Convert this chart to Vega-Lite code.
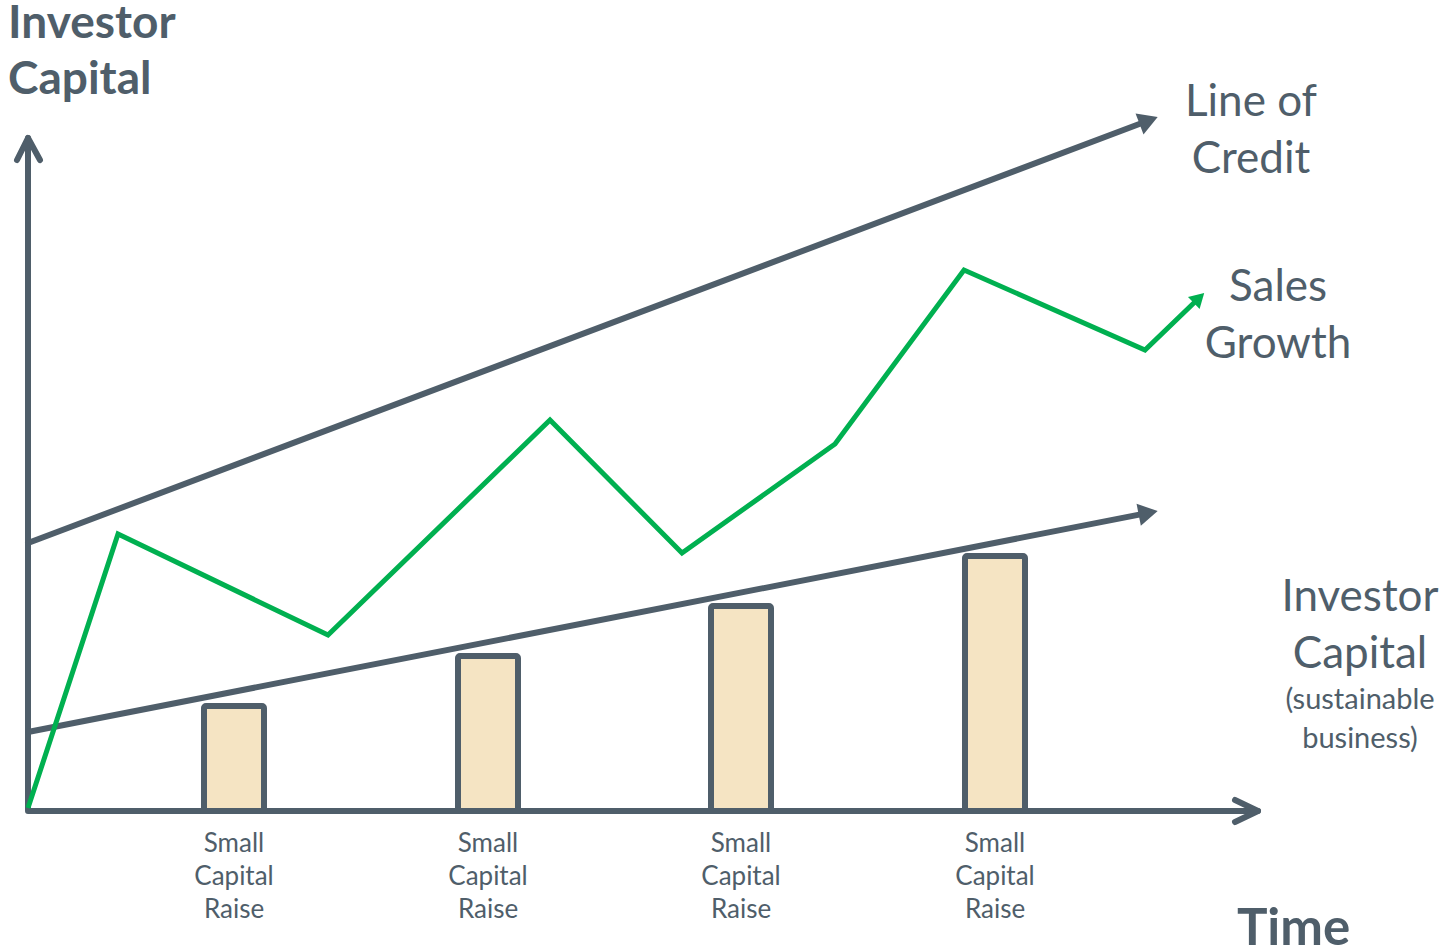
{
  "$schema": "https://vega.github.io/schema/vega-lite/v6.json",
  "width": 1448,
  "height": 951,
  "autosize": {"type": "none"},
  "padding": 0,
  "background": "white",
  "config": {"view": {"stroke": null}},
  "datasets": {
    "paths": [
      {"series": "axes", "order": 1, "t": 0, "v": 673},
      {"series": "axes", "order": 2, "t": 0, "v": 0},
      {"series": "axes", "order": 3, "t": 1230, "v": 0},
      {"series": "yhead", "order": 1, "t": -11, "v": 651},
      {"series": "yhead", "order": 2, "t": 0, "v": 673},
      {"series": "yhead", "order": 3, "t": 12, "v": 651},
      {"series": "xhead", "order": 1, "t": 1207, "v": 11},
      {"series": "xhead", "order": 2, "t": 1230, "v": 0},
      {"series": "xhead", "order": 3, "t": 1207, "v": -11},
      {"series": "Line of Credit", "order": 1, "t": 0, "v": 268},
      {"series": "Line of Credit", "order": 2, "t": 1120.6, "v": 690.5},
      {"series": "Investor Capital", "order": 1, "t": 0, "v": 79},
      {"series": "Investor Capital", "order": 2, "t": 1120.2, "v": 298.1},
      {"series": "Sales Growth", "order": 1, "t": 0, "v": 3},
      {"series": "Sales Growth", "order": 2, "t": 90, "v": 277},
      {"series": "Sales Growth", "order": 3, "t": 300, "v": 176},
      {"series": "Sales Growth", "order": 4, "t": 522, "v": 391},
      {"series": "Sales Growth", "order": 5, "t": 654, "v": 258},
      {"series": "Sales Growth", "order": 6, "t": 807, "v": 367},
      {"series": "Sales Growth", "order": 7, "t": 936, "v": 541},
      {"series": "Sales Growth", "order": 8, "t": 1117, "v": 461},
      {"series": "Sales Growth", "order": 9, "t": 1171, "v": 513}
    ],
    "heads": [
      {"series": "Line of Credit", "t": 1120.6, "v": 690.5, "angle": 69.3},
      {"series": "Investor Capital", "t": 1120.2, "v": 298.1, "angle": 78.9},
      {"series": "Sales Growth", "t": 1171, "v": 513, "angle": 46}
    ],
    "raises": [
      {"raise": "Raise 1", "label": "Small Capital Raise", "start": 176, "mid": 206, "end": 236, "capital": 105},
      {"raise": "Raise 2", "label": "Small Capital Raise", "start": 430, "mid": 460, "end": 490, "capital": 155},
      {"raise": "Raise 3", "label": "Small Capital Raise", "start": 683, "mid": 713, "end": 743, "capital": 205},
      {"raise": "Raise 4", "label": "Small Capital Raise", "start": 937, "mid": 967, "end": 997, "capital": 255}
    ],
    "titles": [
      {"label": "Line of\nCredit", "t": 1223, "v": 695},
      {"label": "Sales\nGrowth", "t": 1250, "v": 510},
      {"label": "Investor\nCapital", "t": 1332, "v": 200}
    ],
    "notes": [
      {"label": "(sustainable\nbusiness)", "t": 1332, "v": 102}
    ],
    "boldtitles": [
      {"label": "Investor\nCapital", "t": -20, "v": 773}
    ],
    "axistitles": [
      {"label": "Time", "t": 1209, "v": -134}
    ]
  },
  "encoding": {
    "x": {"type": "quantitative", "scale": {"domain": [-28, 1420], "nice": false, "zero": false}, "axis": null},
    "y": {"type": "quantitative", "scale": {"domain": [-140, 811], "nice": false, "zero": false}, "axis": null}
  },
  "layer": [
    {
      "data": {"name": "raises"},
      "mark": {"type": "rect", "fill": "#f5e4c3", "stroke": "#4f5e6a", "strokeWidth": 6, "cornerRadius": 2},
      "encoding": {
        "x": {"field": "start", "type": "quantitative"},
        "x2": {"field": "end"},
        "y": {"field": "capital", "type": "quantitative"},
        "y2": {"datum": 0}
      }
    },
    {
      "data": {"name": "raises"},
      "mark": {"type": "text", "font": "Lato", "fontSize": 26, "color": "#4f5e6a", "align": "center", "baseline": "alphabetic", "dy": 41, "lineBreak": " ", "lineHeight": 33},
      "encoding": {
        "x": {"field": "mid", "type": "quantitative"},
        "y": {"datum": 0},
        "text": {"field": "label"}
      }
    },
    {
      "data": {"name": "paths"},
      "transform": [{"filter": "datum.series !== 'Sales Growth'"}],
      "mark": {"type": "line", "color": "#4f5e6a", "strokeWidth": 6, "strokeCap": "round", "strokeJoin": "round"},
      "encoding": {
        "x": {"field": "t", "type": "quantitative"},
        "y": {"field": "v", "type": "quantitative"},
        "detail": {"field": "series"},
        "order": {"field": "order"}
      }
    },
    {
      "data": {"name": "heads"},
      "transform": [{"filter": "datum.series !== 'Sales Growth'"}],
      "mark": {"type": "point", "shape": "triangle-up", "filled": true, "color": "#4f5e6a", "opacity": 1, "size": 500},
      "encoding": {
        "x": {"field": "t", "type": "quantitative"},
        "y": {"field": "v", "type": "quantitative"},
        "angle": {"field": "angle", "type": "quantitative", "scale": null}
      }
    },
    {
      "data": {"name": "paths"},
      "transform": [{"filter": "datum.series === 'Sales Growth'"}],
      "mark": {"type": "line", "color": "#00b050", "strokeWidth": 5, "strokeJoin": "miter"},
      "encoding": {
        "x": {"field": "t", "type": "quantitative"},
        "y": {"field": "v", "type": "quantitative"},
        "detail": {"field": "series"},
        "order": {"field": "order"}
      }
    },
    {
      "data": {"name": "heads"},
      "transform": [{"filter": "datum.series === 'Sales Growth'"}],
      "mark": {"type": "point", "shape": "triangle-up", "filled": true, "color": "#00b050", "opacity": 1, "size": 280},
      "encoding": {
        "x": {"field": "t", "type": "quantitative"},
        "y": {"field": "v", "type": "quantitative"},
        "angle": {"field": "angle", "type": "quantitative", "scale": null}
      }
    },
    {
      "data": {"name": "titles"},
      "mark": {"type": "text", "font": "Lato", "fontSize": 44, "color": "#4f5e6a", "align": "center", "baseline": "alphabetic", "lineBreak": "\n", "lineHeight": 57},
      "encoding": {
        "x": {"field": "t", "type": "quantitative"},
        "y": {"field": "v", "type": "quantitative"},
        "text": {"field": "label"}
      }
    },
    {
      "data": {"name": "notes"},
      "mark": {"type": "text", "font": "Lato", "fontSize": 29, "color": "#4f5e6a", "align": "center", "baseline": "alphabetic", "lineBreak": "\n", "lineHeight": 39},
      "encoding": {
        "x": {"field": "t", "type": "quantitative"},
        "y": {"field": "v", "type": "quantitative"},
        "text": {"field": "label"}
      }
    },
    {
      "data": {"name": "boldtitles"},
      "mark": {"type": "text", "font": "Lato", "fontSize": 46, "fontWeight": "bold", "color": "#4f5e6a", "align": "left", "baseline": "alphabetic", "lineBreak": "\n", "lineHeight": 56},
      "encoding": {
        "x": {"field": "t", "type": "quantitative"},
        "y": {"field": "v", "type": "quantitative"},
        "text": {"field": "label"}
      }
    },
    {
      "data": {"name": "axistitles"},
      "mark": {"type": "text", "font": "Lato", "fontSize": 51, "fontWeight": "bold", "color": "#4f5e6a", "align": "left", "baseline": "alphabetic"},
      "encoding": {
        "x": {"field": "t", "type": "quantitative"},
        "y": {"field": "v", "type": "quantitative"},
        "text": {"field": "label"}
      }
    }
  ]
}
